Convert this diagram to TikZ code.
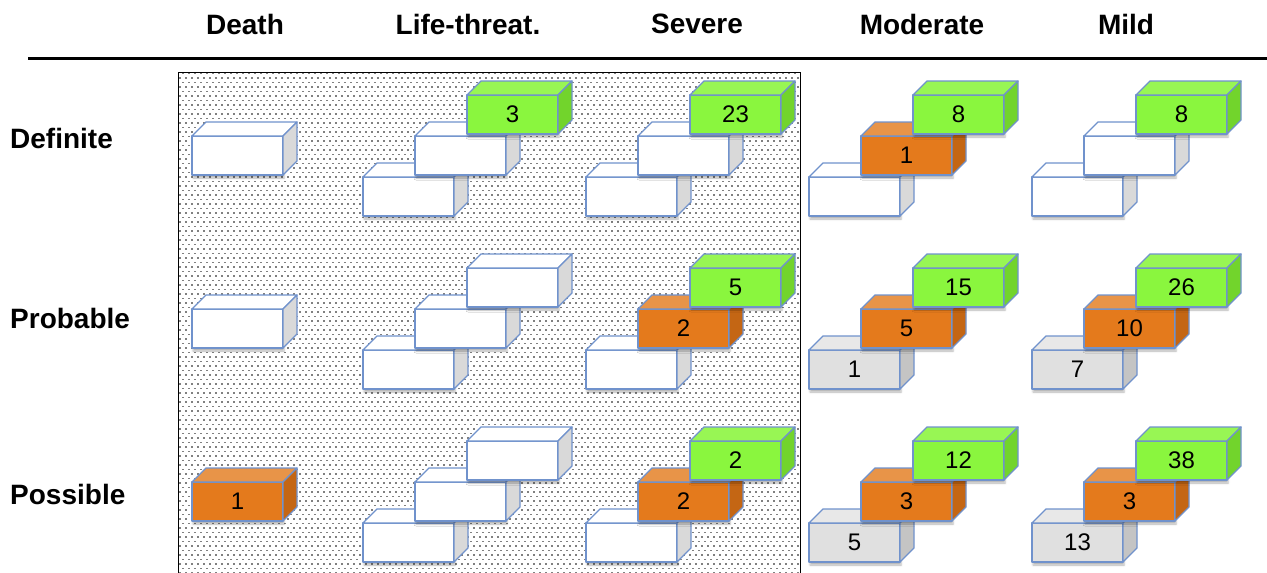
\documentclass[tikz,border=0pt]{standalone}
\usepackage{fontspec}
\setmainfont{Liberation Sans}
\usetikzlibrary{positioning,patterns.meta,shadows.blur}

\definecolor{edgeblue}{RGB}{112,146,204}
\definecolor{wfront}{RGB}{255,255,255}
\definecolor{wtop}{RGB}{255,255,255}
\definecolor{wside}{RGB}{217,217,217}
\definecolor{gfront}{RGB}{224,224,224}
\definecolor{gtop}{RGB}{232,232,232}
\definecolor{gside}{RGB}{196,196,196}
\definecolor{ofront}{RGB}{228,122,28}
\definecolor{otop}{RGB}{232,148,72}
\definecolor{oside}{RGB}{196,102,20}
\definecolor{lfront}{RGB}{138,246,62}
\definecolor{ltop}{RGB}{152,246,84}
\definecolor{lside}{RGB}{114,212,44}

\tikzdeclarepattern{
  name=dotgrid, type=uncolored,
  bottom left={(-1pt,-1pt)}, top right={(5pt,8pt)},
  tile size={(6pt,9pt)},
  code={\fill (-0.65pt,-0.65pt) rectangle (0.65pt,0.65pt);
        \fill (2.35pt,3.85pt) rectangle (3.65pt,5.15pt);}
}

% front face is a node, top and side are drawn from its anchors
\newcommand{\cube}[5]{%
  \node[cube, fill=#4front] (#1) at (#2,#3) {#5};
  \draw[cubeedge, fill=#4top] (#1.north west) -- ++(14pt,14pt)
    -- ([shift={(14pt,14pt)}]#1.north east) -- (#1.north east) -- cycle;
  \draw[cubeedge, fill=#4side] (#1.north east) -- ++(14pt,14pt)
    -- ([shift={(14pt,14pt)}]#1.south east) -- (#1.south east) -- cycle;
}

\begin{document}
\begin{tikzpicture}[x=1pt,y=-1pt]
  \tikzset{head/.style={font=\bfseries\fontsize{28}{28}\selectfont,inner sep=0pt},
           cubeedge/.style={draw=edgeblue,line width=1.3pt,line join=round},
           cube/.style={cubeedge,anchor=north west,minimum width=91pt,minimum height=39pt,
                        inner sep=0pt,outer sep=0pt,font=\fontsize{24}{24}\selectfont,
                        blur shadow={shadow xshift=1pt,shadow yshift=-3pt,shadow blur radius=2pt,shadow opacity=30}}}
  \useasboundingbox (0,0) rectangle (1267,573);

  % dotted field and header rule
  \draw[line width=0.8pt, pattern=dotgrid, pattern color=black!50] (178,72) rectangle (800,578);
  \draw[line width=3pt] (28,58) -- (1267,58);

  % column heads
  \node[head] (death) at (245,24) {Death};
  \node[head] (life) at (468,24) {Life-threat.};
  \node[head] (severe) at (697,24) {Severe};
  \node[head] (moderate) at (922,24) {Moderate};
  \node[head] (mild) at (1126,24) {Mild};

  % row heads
  \node[head, anchor=west] (definite) at (10,138) {Definite};
  \node[head, anchor=west] (probable) at (10,318) {Probable};
  \node[head, anchor=west] (possible) at (10,494) {Possible};

  % column/row/level/kind/count
  \foreach \c/\r/\l/\k/\t [evaluate=\c as \x using 140+223*\c+52*\l,
                            evaluate=\r as \y using 177+173*\r-41*\l] in {
      0/0/1/w/{},
      1/0/0/w/{}, 1/0/1/w/{}, 1/0/2/l/3,
      2/0/0/w/{}, 2/0/1/w/{}, 2/0/2/l/23,
      3/0/0/w/{}, 3/0/1/o/1,  3/0/2/l/8,
      4/0/0/w/{}, 4/0/1/w/{}, 4/0/2/l/8,
      0/1/1/w/{},
      1/1/0/w/{}, 1/1/1/w/{}, 1/1/2/w/{},
      2/1/0/w/{}, 2/1/1/o/2,  2/1/2/l/5,
      3/1/0/g/1,  3/1/1/o/5,  3/1/2/l/15,
      4/1/0/g/7,  4/1/1/o/10, 4/1/2/l/26,
      0/2/1/o/1,
      1/2/0/w/{}, 1/2/1/w/{}, 1/2/2/w/{},
      2/2/0/w/{}, 2/2/1/o/2,  2/2/2/l/2,
      3/2/0/g/5,  3/2/1/o/3,  3/2/2/l/12,
      4/2/0/g/13, 4/2/1/o/3,  4/2/2/l/38}
    {\cube{c\c\r\l}{\x}{\y}{\k}{\t}}
\end{tikzpicture}
\end{document}
